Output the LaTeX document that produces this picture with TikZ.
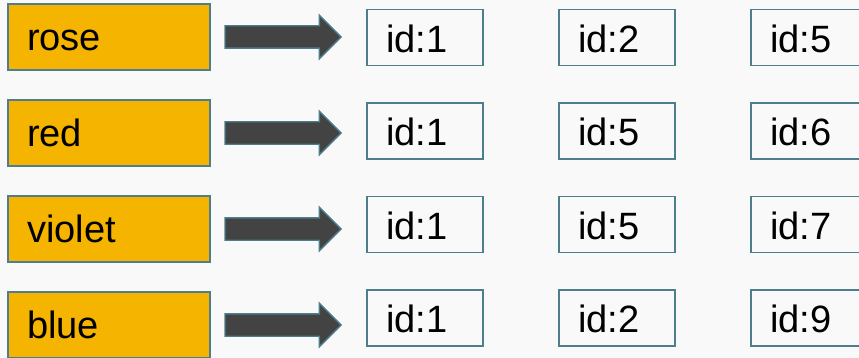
\documentclass[tikz,border=0pt]{standalone}
\usepackage{fontspec}
\setmainfont{Liberation Sans}
\usepackage{xcolor}
\usetikzlibrary{shapes.arrows, positioning}
\definecolor{keyfill}{HTML}{F4B400}
\definecolor{edgeteal}{HTML}{4E7D8B}
\definecolor{shaftgray}{HTML}{434343}
\definecolor{paper}{HTML}{F9F9F9}
\tikzset{
  key/.style   ={rectangle, draw=edgeteal, fill=keyfill, line width=1.5pt, outer sep=0pt,
                 minimum width=6.06cm, minimum height=1.98cm, text width=4.92cm,
                 inner xsep=0.57cm, align=left, text height=26pt, text depth=3.8pt,
                 font=\fontsize{32.5}{39}\selectfont},
  post/.style  ={rectangle, draw=edgeteal, fill=paper, line width=1.5pt, outer sep=0pt,
                 minimum width=3.48cm, minimum height=1.68cm, text width=2.34cm,
                 inner xsep=0.57cm, align=left, text height=27.5pt, text depth=2.7pt,
                 font=\fontsize{32.5}{39}\selectfont},
  bigarrow/.style={single arrow, draw=edgeteal, fill=shaftgray, line width=1.2pt,
                 outer sep=0pt, inner xsep=0pt, inner ysep=0.315cm,
                 single arrow head extend=0.315cm, minimum height=3.48cm},
}

\begin{document}
\begin{tikzpicture}[node distance=0.9cm and 0.45cm]

  % ── Frame ──────────────────────────────────────────────────────────
  \useasboundingbox (0,0) rectangle (25.77,-10.74);
  \clip (0,0) rectangle (25.77,-10.74);
  \fill[paper] (0,0) rectangle (25.77,-10.74);

  % ── Keys ───────────────────────────────────────────────────────────
  \node[key] (k1) at (3.27,-1.11) {rose};
  \node[key, below=0.9cm of k1]  (k2) {red};
  \node[key, below=0.9cm of k2]  (k3) {violet};
  \node[key, below=0.9cm of k3]  (k4) {blue};

  % ── Arrows ─────────────────────────────────────────────────────────
  \node[bigarrow, right=0.45cm of k1] (r1) {};
  \node[bigarrow, right=0.45cm of k2] (r2) {};
  \node[bigarrow, right=0.45cm of k3] (r3) {};
  \node[bigarrow, right=0.45cm of k4] (r4) {};

  % ── Postings, column A ─────────────────────────────────────────────
  \node[post] (a1) at (12.75,-1.125) {id:1};
  \node[post, below=1.125cm of a1] (a2) {id:1};
  \node[post, below=1.125cm of a2] (a3) {id:1};
  \node[post, below=1.125cm of a3] (a4) {id:1};

  % ── Postings, column B ─────────────────────────────────────────────
  \node[post, right=2.28cm of a1] (b1) {id:2};
  \node[post, right=2.28cm of a2] (b2) {id:5};
  \node[post, right=2.28cm of a3] (b3) {id:5};
  \node[post, right=2.28cm of a4] (b4) {id:2};

  % ── Postings, column C ─────────────────────────────────────────────
  \node[post, right=2.28cm of b1] (c1) {id:5};
  \node[post, right=2.28cm of b2] (c2) {id:6};
  \node[post, right=2.28cm of b3] (c3) {id:7};
  \node[post, right=2.28cm of b4] (c4) {id:9};

\end{tikzpicture}
\end{document}
